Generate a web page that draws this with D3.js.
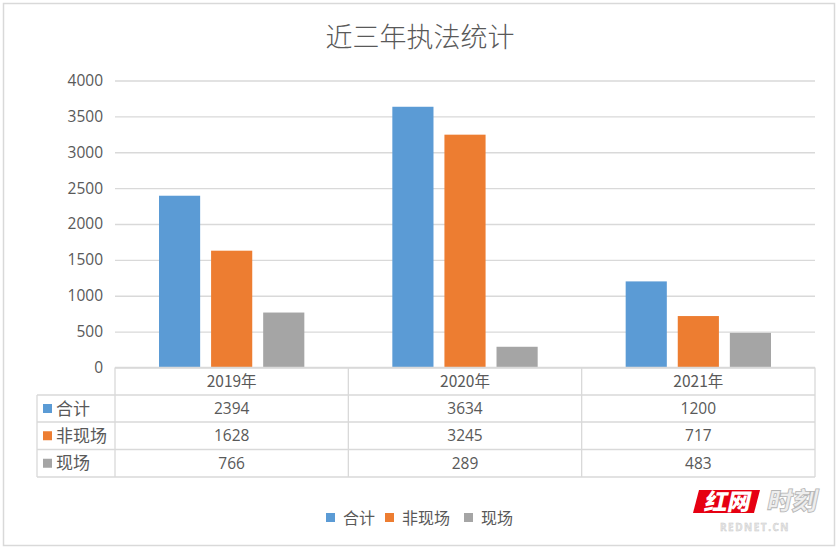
<!DOCTYPE html>
<html><head><meta charset="utf-8">
<script src="https://cdn.jsdelivr.net/npm/d3@7/dist/d3.min.js"></script>
<style>
html,body{margin:0;padding:0;background:#fff;}
svg{display:block;}
text{font-family:"Open Sans","Noto Sans CJK SC",sans-serif;}
.cjk{font-family:"Noto Sans CJK SC",sans-serif;}
</style></head>
<body>
<svg id="chart" width="840" height="549"></svg>
<script>
const title = "近三年执法统计";
const categories = ["2019年", "2020年", "2021年"];
const seriesNames = ["合计", "非现场", "现场"];
const totalValues = [2394, 3634, 1200];
const offsiteValues = [1628, 3245, 717];
const onsiteValues = [766, 289, 483];
const yTicks = [0, 500, 1000, 1500, 2000, 2500, 3000, 3500, 4000];
const colors = ["#5B9BD5", "#ED7D31", "#A5A5A5"];

const seriesValues = [totalValues, offsiteValues, onsiteValues];

const svg = d3.select("#chart");
const plot = {left: 115, right: 815, top: 80.5, bottom: 367.5};
const tableCols = {left: 37};
const rowY = [367.5, 395, 422, 449.5, 477];
const gridColor = "#d9d9d9";
const textColor = "#595959";

// outer frame
svg.append("rect").attr("x", 3.5).attr("y", 3.5).attr("width", 831).attr("height", 542)
  .attr("fill", "#fff").attr("stroke", "#d9d9d9").attr("stroke-width", 1.5);

// title
svg.append("text").attr("class", "cjk").attr("x", 420).attr("y", 47)
  .attr("text-anchor", "middle").attr("font-size", 27).attr("font-weight", 300)
  .attr("fill", textColor).text(title);

const y = d3.scaleLinear().domain([0, 4000]).range([plot.bottom, plot.top]);
const x0 = d3.scaleBand().domain(categories).range([plot.left, plot.right]).padding(0);
const x1 = d3.scaleBand().domain(seriesNames).range([44, x0.bandwidth() - 44]).paddingInner(0.21);

// gridlines + y axis
const yAxis = d3.axisLeft(y).tickValues(yTicks).tickSize(-(plot.right - plot.left)).tickPadding(12).tickFormat(d3.format("d"));
const gy = svg.append("g").attr("transform", `translate(${plot.left},0)`).call(yAxis);
gy.select(".domain").remove();
gy.selectAll(".tick line").attr("stroke", gridColor).attr("stroke-width", 1.3);
gy.selectAll(".tick text").attr("fill", textColor).attr("font-size", 15.5)
  .attr("font-family", "'Open Sans',sans-serif");

// bars
const groups = svg.append("g").selectAll("g").data(categories).join("g")
  .attr("transform", d => `translate(${x0(d)},0)`);
groups.selectAll("rect").data((c, i) => seriesNames.map((s, j) => ({s, j, v: seriesValues[j][i]})))
  .join("rect")
  .attr("x", d => x1(d.s)).attr("width", x1.bandwidth())
  .attr("y", d => y(d.v)).attr("height", d => y(0) - y(d.v))
  .attr("fill", d => colors[d.j]);

// data table
const tg = svg.append("g").attr("stroke", gridColor).attr("stroke-width", 1.3).attr("fill", "none");
tg.append("line").attr("x1", plot.left).attr("x2", plot.right).attr("y1", rowY[0]).attr("y2", rowY[0]);
for (let r = 1; r < rowY.length; r++) {
  tg.append("line").attr("x1", tableCols.left).attr("x2", plot.right).attr("y1", rowY[r]).attr("y2", rowY[r]);
}
const colEdges = categories.map(c => x0(c)).concat([plot.right]);
colEdges.forEach(xv => {
  tg.append("line").attr("x1", xv).attr("x2", xv).attr("y1", rowY[0]).attr("y2", rowY[rowY.length - 1]);
});
tg.append("line").attr("x1", tableCols.left).attr("x2", tableCols.left).attr("y1", rowY[1]).attr("y2", rowY[rowY.length - 1]);

// header text
svg.append("g").selectAll("text").data(categories).join("text")
  .attr("class", "cjk")
  .attr("x", d => x0(d) + x0.bandwidth() / 2).attr("y", (rowY[0] + rowY[1]) / 2 + 5.5)
  .attr("text-anchor", "middle").attr("font-size", 15.5).attr("fill", textColor)
  .text(d => d);

// row labels and values
seriesNames.forEach((s, j) => {
  const cy = (rowY[j + 1] + rowY[j + 2]) / 2;
  svg.append("rect").attr("x", 43).attr("y", cy - 4.5).attr("width", 9).attr("height", 9).attr("fill", colors[j]);
  svg.append("text").attr("class", "cjk").attr("x", 56).attr("y", cy + 6)
    .attr("font-size", 17).attr("fill", textColor).text(s);
  categories.forEach((c, i) => {
    svg.append("text").attr("x", x0(c) + x0.bandwidth() / 2).attr("y", cy + 5.5)
      .attr("text-anchor", "middle").attr("font-size", 15.5).attr("fill", textColor)
      .attr("font-family", "'Open Sans',sans-serif")
      .text(seriesValues[j][i]);
  });
});

// legend
const legendItems = [{x: 326}, {x: 385}, {x: 464}];
seriesNames.forEach((s, j) => {
  const lx = legendItems[j].x;
  svg.append("rect").attr("x", lx).attr("y", 513).attr("width", 9).attr("height", 9).attr("fill", colors[j]);
  svg.append("text").attr("class", "cjk").attr("x", lx + 17).attr("y", 523.5)
    .attr("font-size", 16).attr("fill", textColor).text(s);
});

// watermark logo
const wm = svg.append("g");
wm.append("path").attr("d", "M699,490 L760,490 L754,513 L693,513 Z").attr("fill", "#e60012");
const skew = Math.tan(12 * Math.PI / 180);
wm.append("text").attr("class", "cjk").attr("x", 726.5 + skew * 510).attr("y", 510).attr("text-anchor", "middle")
  .attr("font-size", 23).attr("font-weight", 900)
  .attr("fill", "#fff").attr("transform", "skewX(-12)").text("红网");
wm.append("text").attr("class", "cjk").attr("x", 791 + skew * 510).attr("y", 510).attr("text-anchor", "middle")
  .attr("font-size", 25).attr("font-weight", 900)
  .attr("fill", "#eeeeee").attr("stroke", "#b5b5b5").attr("stroke-width", 0.8)
  .attr("transform", "skewX(-12)").text("时刻");
wm.append("text").attr("x", 755).attr("y", 531).attr("text-anchor", "middle")
  .attr("font-size", 10).attr("font-weight", 700).attr("letter-spacing", 1.5)
  .attr("fill", "#e6e6e6").attr("stroke", "#c8c8c8").attr("stroke-width", 0.4)
  .text("REDNET.CN");
</script>
</body></html>
